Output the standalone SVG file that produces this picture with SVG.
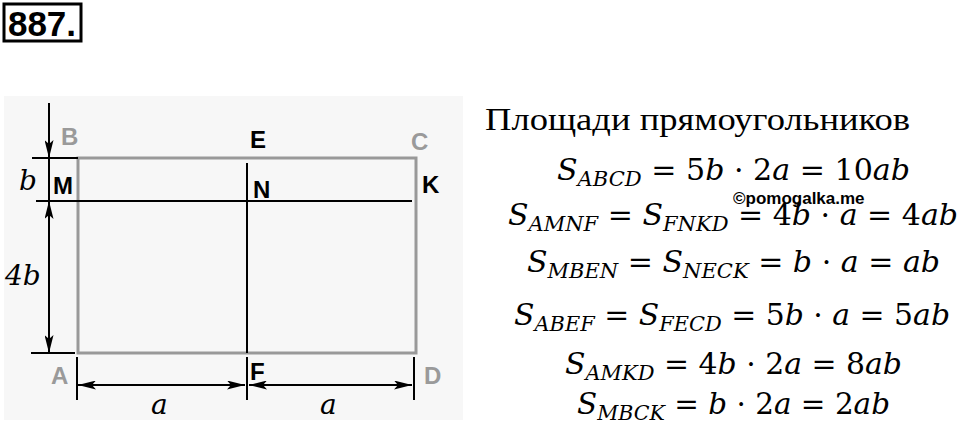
<svg xmlns="http://www.w3.org/2000/svg" width="960" height="427" viewBox="0 0 960 427">
<style>
.lbl{font-family:"Liberation Sans",Arial,sans-serif;font-weight:bold;font-size:24px;fill:#000}
.gry{fill:#9a9a9a}
.it{font-family:"DejaVu Serif","Liberation Serif",serif;font-style:italic;font-size:28px;fill:#000}
.m{font-family:"DejaVu Serif","Liberation Serif",serif;font-style:italic;font-size:30px;fill:#000}
.u{font-style:normal}
.sub{font-size:21px}
.hd{font-family:"Liberation Serif","Times New Roman",serif;font-size:32px;fill:#000}
.dim{stroke:#000;stroke-width:2;fill:none}
</style>
<defs>
<marker id="ar" viewBox="0 0 18 9" refX="18" refY="4.5" markerWidth="18" markerHeight="9" markerUnits="userSpaceOnUse" orient="auto-start-reverse">
<path d="M0,0 L18,4.5 L0,9 L4,4.5 z" fill="#000"/>
</marker>
</defs>
<rect width="960" height="427" fill="#fff"/>
<g id="title">
<rect x="4" y="4" width="77" height="37" fill="#fff" stroke="#000" stroke-width="3"/>
<text x="42" y="36" text-anchor="middle" font-family="Liberation Sans,Arial,sans-serif" font-weight="bold" font-size="35">887.</text>
</g>
<rect x="4" y="96" width="459" height="324" fill="#f7f7f7"/>
<g id="rect-ABCD">
<rect x="78" y="158" width="338" height="195" fill="none" stroke="#999" stroke-width="3"/>
</g>
<g id="connectors">
<line x1="78" y1="201" x2="412" y2="201" stroke="#000" stroke-width="2"/>
<line x1="247" y1="163" x2="247" y2="353" stroke="#000" stroke-width="2"/>
<line class="dim" x1="32" y1="158" x2="78" y2="158"/>
<line class="dim" x1="36" y1="201" x2="78" y2="201"/>
<line class="dim" x1="31" y1="353" x2="75" y2="353"/>
<line class="dim" x1="49" y1="103" x2="49" y2="158" marker-end="url(#ar)"/>
<line class="dim" x1="49" y1="158" x2="49" y2="201"/>
<line class="dim" x1="49" y1="201" x2="49" y2="353" marker-start="url(#ar)" marker-end="url(#ar)"/>
<line class="dim" x1="77" y1="357" x2="77" y2="400"/>
<line class="dim" x1="247" y1="357" x2="247" y2="400"/>
<line class="dim" x1="414" y1="357" x2="414" y2="400"/>
<line class="dim" x1="78" y1="385" x2="245" y2="385" marker-start="url(#ar)" marker-end="url(#ar)"/>
<line class="dim" x1="249" y1="385" x2="412" y2="385" marker-start="url(#ar)" marker-end="url(#ar)"/>
</g>
<g id="labels">
<text class="lbl gry" x="61" y="145">B</text>
<text class="lbl" x="250" y="148">E</text>
<text class="lbl gry" x="411" y="150">C</text>
<text class="lbl" x="53" y="194">M</text>
<text class="lbl" x="253" y="198">N</text>
<text class="lbl" x="422" y="193">K</text>
<text class="lbl gry" x="51" y="384">A</text>
<text class="lbl" x="250" y="380">F</text>
<text class="lbl gry" x="424" y="384">D</text>
<text class="it" x="19" y="190">b</text>
<text class="it" x="5" y="285">4b</text>
<text class="it" x="151" y="414">a</text>
<text class="it" x="320" y="414">a</text>
</g>
<g id="formulas">
<text class="hd" x="485" y="130" textLength="425" lengthAdjust="spacingAndGlyphs">Площади прямоугольников</text>
<text class="m" x="557" y="180" textLength="353" lengthAdjust="spacingAndGlyphs">S<tspan class="sub" dy="6">ABCD</tspan><tspan class="u" dy="-6"> = 5</tspan>b<tspan class="u"> · 2</tspan>a<tspan class="u"> = 10</tspan>ab</text>
<text class="m" x="508" y="225" textLength="450" lengthAdjust="spacingAndGlyphs">S<tspan class="sub" dy="6">AMNF</tspan><tspan class="u" dy="-6"> = </tspan>S<tspan class="sub" dy="6">FNKD</tspan><tspan class="u" dy="-6"> = 4</tspan>b<tspan class="u"> · </tspan>a<tspan class="u"> = 4</tspan>ab</text>
<text class="m" x="527" y="272" textLength="413" lengthAdjust="spacingAndGlyphs">S<tspan class="sub" dy="6">MBEN</tspan><tspan class="u" dy="-6"> = </tspan>S<tspan class="sub" dy="6">NECK</tspan><tspan class="u" dy="-6"> = </tspan>b<tspan class="u"> · </tspan>a<tspan class="u"> = </tspan>ab</text>
<text class="m" x="514" y="325" textLength="436" lengthAdjust="spacingAndGlyphs">S<tspan class="sub" dy="6">ABEF</tspan><tspan class="u" dy="-6"> = </tspan>S<tspan class="sub" dy="6">FECD</tspan><tspan class="u" dy="-6"> = 5</tspan>b<tspan class="u"> · </tspan>a<tspan class="u"> = 5</tspan>ab</text>
<text class="m" x="565" y="374" textLength="337" lengthAdjust="spacingAndGlyphs">S<tspan class="sub" dy="6">AMKD</tspan><tspan class="u" dy="-6"> = 4</tspan>b<tspan class="u"> · 2</tspan>a<tspan class="u"> = 8</tspan>ab</text>
<text class="m" x="577" y="414" textLength="313" lengthAdjust="spacingAndGlyphs">S<tspan class="sub" dy="6">MBCK</tspan><tspan class="u" dy="-6"> = </tspan>b<tspan class="u"> · 2</tspan>a<tspan class="u"> = 2</tspan>ab</text>
<text x="733" y="204" font-family="Liberation Sans,Arial,sans-serif" font-weight="bold" font-size="17" fill="#000">©pomogalka.me</text>
</g>
</svg>
